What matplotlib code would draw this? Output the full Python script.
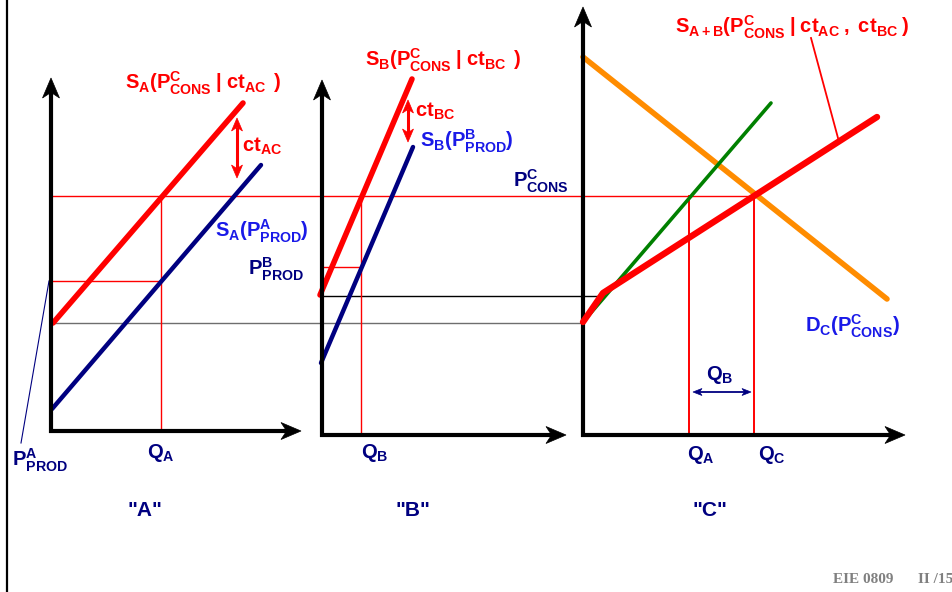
import numpy as np
import matplotlib
matplotlib.use("Agg")
import matplotlib.pyplot as plt
from matplotlib.patches import Polygon

plt.rcParams['font.family'] = ['Liberation Sans', 'DejaVu Sans']
plt.rcParams['mathtext.fontset'] = 'custom'
plt.rcParams['mathtext.rm'] = 'Liberation Sans:bold'
plt.rcParams['mathtext.it'] = 'Liberation Sans:bold'
plt.rcParams['mathtext.bf'] = 'Liberation Sans:bold'
plt.rcParams['mathtext.default'] = 'rm'

# ---------------- data (diagram units: x to the right, y downward) ----------------
# axes: origin and tips for the three panels
axes_origin_x = [51, 322, 583]
axes_origin_y = [431, 435, 435]
axes_xtip = [301, 566, 905]
axes_ytip = [78, 80, 7]

# panel A
sa_cons_x = [53, 243]
sa_cons_y = [323, 103]
sa_prod_x = [52, 261]
sa_prod_y = [409, 165]
# panel B
sb_cons_x = [320, 412]
sb_cons_y = [295, 79]
sb_prod_x = [321, 413]
sb_prod_y = [363, 147]
# panel C
dc_x = [583, 887]
dc_y = [57, 299]
green_x = [583, 771]
green_y = [322, 103]
sab_x = [583, 603, 877]
sab_y = [322, 293, 117]

# price levels
p_cons = 196
p_a_prod = 281
p_b_prod = 267
p_low_a = 323
p_low_b = 296
q_a_A = 161
q_b_B = 361
q_a_C = 689
q_c_C = 754
x_frame = 7

# ---------------- figure ----------------
fig = plt.figure(figsize=(9.53, 5.92), dpi=100)
ax = fig.add_axes([0, 0, 1, 1])
ax.set_xlim(0, 953)
ax.set_ylim(592, 0)
ax.axis('off')

RED = '#ff0000'
NAVY = '#000080'
BLUE = '#1a1ae8'
GREEN = '#008000'
ORANGE = '#ff8c00'
GRAY = '#6e6e6e'


def head(tip, frm, length, width, color, notch=0.72):
    tip = np.array(tip, float)
    frm = np.array(frm, float)
    d = tip - frm
    d /= np.hypot(*d)
    n = np.array([-d[1], d[0]])
    back = tip - d * length
    nt = tip - d * length * notch
    pts = [tip, back + n * width / 2, nt, back - n * width / 2]
    ax.add_patch(Polygon(pts, closed=True, facecolor=color, edgecolor=color, lw=0.5, zorder=6))
    return nt


def arrow(frm, tip, lw, length, width, color, both=False):
    frm = np.array(frm, float)
    tip = np.array(tip, float)
    end = head(tip, frm, length, width, color)
    start = frm
    if both:
        start = head(frm, tip, length, width, color)
    ax.plot([start[0], end[0]], [start[1], end[1]], color=color, lw=lw,
            solid_capstyle='butt', zorder=5)


# frame line
ax.plot([x_frame, x_frame], [0, 592], color='black', lw=1.6)

# thin guide lines
ax.plot([axes_origin_x[0], q_c_C], [p_cons, p_cons], color=RED, lw=1.0, zorder=2)
ax.plot([axes_origin_x[0], axes_origin_x[2]], [p_low_a, p_low_a], color=GRAY, lw=1.0, zorder=2)
ax.plot([axes_origin_x[1], sab_x[1]], [p_low_b, p_low_b], color='black', lw=1.0, zorder=2)
ax.plot([axes_origin_x[0], q_a_A], [p_a_prod, p_a_prod], color=RED, lw=1.0, zorder=2)
ax.plot([axes_origin_x[1], q_b_B], [p_b_prod, p_b_prod], color=RED, lw=1.0, zorder=2)
ax.plot([q_a_A, q_a_A], [p_cons, axes_origin_y[0]], color=RED, lw=1.0, zorder=2)
ax.plot([q_b_B, q_b_B], [p_cons, axes_origin_y[1]], color=RED, lw=1.0, zorder=2)
ax.plot([q_a_C, q_a_C], [p_cons, axes_origin_y[2]], color=RED, lw=1.4, zorder=2)
ax.plot([q_c_C, q_c_C], [p_cons, axes_origin_y[2]], color=RED, lw=1.4, zorder=2)

# axes with arrows
for ox, oy, xt, yt in zip(axes_origin_x, axes_origin_y, axes_xtip, axes_ytip):
    arrow((ox, oy + 1.5), (ox, yt), 3.0, 20, 17, 'black')
    arrow((ox - 1.5, oy), (xt, oy), 3.0, 20, 17, 'black')

# curves
ax.plot(sa_cons_x, sa_cons_y, color=RED, lw=4.0, solid_capstyle='round', zorder=4)
ax.plot(sa_prod_x, sa_prod_y, color=NAVY, lw=3.2, solid_capstyle='round', zorder=4)
ax.plot(sb_cons_x, sb_cons_y, color=RED, lw=4.0, solid_capstyle='round', zorder=4)
ax.plot(sb_prod_x, sb_prod_y, color=NAVY, lw=3.2, solid_capstyle='round', zorder=4)
ax.plot(dc_x, dc_y, color=ORANGE, lw=4.0, solid_capstyle='round', zorder=4)
ax.plot(green_x, green_y, color=GREEN, lw=2.6, solid_capstyle='round', zorder=4)
ax.plot(sab_x, sab_y, color=RED, lw=4.6, solid_capstyle='round',
        solid_joinstyle='round', zorder=5)

# ct arrows
arrow((237, 118), (237, 178), 2.2, 13, 11, RED, both=True)
arrow((408, 100), (408, 142), 2.2, 13, 11, RED, both=True)
# Q_B arrow in C
arrow((693, 392), (751, 392), 1.3, 9, 7, NAVY, both=True)

# leaders
ax.plot([49, 21], [281, 443], color=NAVY, lw=0.8)
ax.plot([811, 838], [38, 138], color=RED, lw=1.3)

FS = 14.5
def txt(x, y, s, color, fs=FS, ha='left'):
    ax.text(x, y, s, color=color, fontsize=fs, ha=ha, va='baseline', zorder=10)

txt(125, 89, r'$S_A(P^C_{CONS}\;|\;ct_{AC}\;\,)$', RED)
txt(242, 152, r'$ct_{AC}$', RED)
txt(215, 237, r'$S_A(P^A_{PROD})$', BLUE)
txt(248, 275, r'$P^B_{PROD}$', NAVY)
txt(12, 466, r'$P^A_{PROD}$', NAVY)
txt(147, 458, r'$Q_A$', NAVY)

txt(365, 66, r'$S_B(P^C_{CONS}\;|\;ct_{BC}\;\,)$', RED)
txt(415, 117, r'$ct_{BC}$', RED)
txt(420, 147, r'$S_B(P^B_{PROD})$', BLUE)
txt(513, 187, r'$P^C_{CONS}$', NAVY)
txt(361, 458, r'$Q_B$', NAVY)

txt(675, 33, r'$S_{A+B}(P^C_{CONS}\;|\;ct_{AC}\;,\;ct_{BC}\;)$', RED)
txt(805, 332, r'$D_C(P^C_{CONS})$', BLUE)
txt(706, 380, r'$Q_B$', NAVY)
txt(687, 460, r'$Q_A$', NAVY)
txt(758, 460, r'$Q_C$', NAVY)

for cx, s in zip([145, 413, 710], ['"A"', '"B"', '"C"']):
    ax.text(cx, 516, s, color=NAVY, fontsize=15, fontweight='bold', ha='center',
            va='baseline', family='Liberation Sans')

ax.text(833, 583, 'EIE 0809', color='#808080', fontsize=11, fontweight='bold',
        family='Liberation Serif', ha='left', va='baseline')
ax.text(918, 583, 'II /15', color='#808080', fontsize=11, fontweight='bold',
        family='Liberation Serif', ha='left', va='baseline')

fig.savefig('out.png', dpi=100)
